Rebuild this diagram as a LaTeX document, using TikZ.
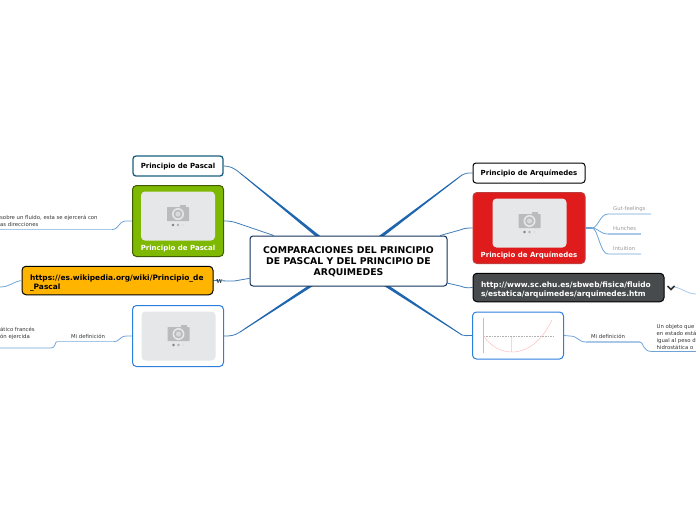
\documentclass[tikz,border=0pt]{standalone}
\usepackage{fontspec}
\setmainfont{DejaVu Sans}
\newfontfamily\wmarkfont{DejaVu Serif}
\usepackage{xcolor}
\usetikzlibrary{positioning,calc,backgrounds}
\definecolor{linkblue}{HTML}{1F66AE}
\definecolor{softblue}{HTML}{6FA3D8}
\definecolor{paleblue}{HTML}{A9C7E8}
\definecolor{navy}{HTML}{12325A}
\definecolor{pascalteal}{HTML}{1A5F80}
\definecolor{pascalgreen}{HTML}{7FB800}
\definecolor{arqred}{HTML}{E01B1B}
\definecolor{urlamber}{HTML}{FFB400}
\definecolor{urlgray}{HTML}{474B4D}
\definecolor{photogray}{HTML}{E6E7E9}
\definecolor{cameragray}{HTML}{BBBBBD}
\definecolor{framecolor}{HTML}{2C7FDD}
\tikzset{
  topicbox/.style={draw=black,rounded corners=3pt,line width=1pt,fill=white,font=\fontsize{7}{9}\selectfont\bfseries,align=center,inner sep=0pt,text depth=-1.5pt},
  imgbox/.style={rounded corners=4pt,line width=1pt,inner sep=0pt},
  photobox/.style={fill=photogray,rounded corners=4pt,inner sep=0pt},
  caption/.style={font=\fontsize{7}{9}\selectfont\bfseries,text=white,inner sep=0pt},
  urlbox/.style={rounded corners=4pt,line width=1pt,draw=black,font=\fontsize{7.45}{8.6}\selectfont\bfseries,align=left,inner sep=0pt,execute at begin node={\rule{0pt}{10.5pt}}},
  note/.style={font=\fontsize{5.35}{7}\selectfont,text=black!80,align=left,inner sep=0pt},
  faint/.style={font=\fontsize{5.3}{7}\selectfont,text=black!40,inner sep=0pt},
  thin/.style={linkblue!85,line width=0.8pt},
  sub/.style={softblue,line width=0.8pt},
  pale/.style={paleblue,line width=1.2pt},
}
% camera placeholder
\newcommand{\cameraicon}[1]{
  \fill[cameragray,rounded corners=0.5pt] ($(#1)+(-11,-9)$) rectangle ($(#1)+(11,5)$);
  \fill[cameragray] ($(#1)+(2,-11)$) rectangle ($(#1)+(8,-9)$);
  \fill[photogray] ($(#1)+(0,-2)$) circle (6);
  \fill[cameragray] ($(#1)+(0,-2)$) circle (4.4);
  \fill[photogray!70!cameragray] ($(#1)+(0,-2)$) circle (2.6);
  \fill[black!50] ($(#1)+(-5,9)$) circle (1.3);
  \fill[black!30] ($(#1)+(0,9)$) circle (1.3);
  \fill[black!12] ($(#1)+(5,9)$) circle (1.3);
}
% branch that widens towards the central node
\newcommand{\taper}[2]{
  \fill[linkblue] ($(#1)!0.4pt!90:(#2)$) -- ($(#2)!2pt!-90:(#1)$) -- ($(#2)!2pt!90:(#1)$) -- ($(#1)!0.4pt!-90:(#2)$) -- cycle;
}
\begin{document}
\begin{tikzpicture}[x=1pt,y=-1pt]
  \useasboundingbox (0,0) rectangle (696,520);
  % nodes
  \node[topicbox,draw=navy,minimum width=197pt,minimum height=50pt,font=\fontsize{9.3}{11}\selectfont\bfseries] (main) at (348.5,261)
    {COMPARACIONES DEL PRINCIPIO\\DE PASCAL Y DEL PRINCIPIO DE\\ARQUIMEDES};
  \node[topicbox,draw=pascalteal,line width=1.3pt,minimum width=90pt,minimum height=20pt] (pascal) at (178,166) {Principio de Pascal};
  \node[imgbox,draw=pascalgreen!50!black,fill=pascalgreen,minimum width=91pt,minimum height=71pt] (pascalimg) at (178,221) {};
  \node[photobox,minimum width=74pt,minimum height=49pt] (pascalphoto) at (178,216) {};
  \node[caption] (pascalcap) at (178,248.5) {Principio de Pascal};
  \node[urlbox,fill=urlamber,minimum width=191pt,minimum height=28.5pt,text width=175pt] (wiki) at (117.5,280.5)
    {https://es.wikipedia.org/wiki/Principio\_de\\\_Pascal};
  \node[imgbox,draw=framecolor,fill=white,minimum width=91pt,minimum height=61pt] (myimg) at (178,336) {};
  \node[photobox,minimum width=74pt,minimum height=49pt] (myphoto) at (178.5,336) {};
  \node[topicbox,minimum width=112pt,minimum height=20pt] (arq) at (529,173) {Principio de Arquímedes};
  \node[imgbox,draw=arqred!65!gray,fill=arqred,minimum width=112pt,minimum height=71pt] (arqimg) at (529,228) {};
  \node[photobox,minimum width=74pt,minimum height=49pt] (arqphoto) at (529.5,223) {};
  \node[caption] (arqcap) at (529,255.5) {Principio de Arquímedes};
  \node[urlbox,fill=urlgray,text=white,minimum width=191pt,minimum height=28.5pt,text width=175pt] (sc) at (568.5,287.5)
    {http://www.sc.ehu.es/sbweb/fisica/fluido\\s/estatica/arquimedes/arquimedes.htm};
  \node[imgbox,draw=framecolor,fill=white,minimum width=91pt,minimum height=47pt] (graph) at (518,335.5) {};
  % leaf labels
  \node[note,anchor=west] (pascaltext) at (0,221) {sobre un fluido, esta se ejercerá con\\as direcciones};
  \node[note,anchor=west] (frances) at (0,333) {ático francés\\ón ejercida};
  \node[note] (pascaldef) at (88,336) {Mi definición};
  \node[note] (arqdef) at (608,336) {Mi definición};
  \node[note,anchor=west] (arqtext) at (656.5,336.5) {Un objeto que\\en estado está\\igual al peso d\\hidrostática o};
  \node[faint,anchor=west] (gut) at (613,209.5) {Gut-feelings};
  \node[faint,anchor=west] (hunch) at (613,228.5) {Hunches};
  \node[faint,anchor=west] (intu) at (613,248.5) {Intuition};
  \node[font=\wmarkfont\bfseries\fontsize{5.5}{6}\selectfont,text=black!80,inner sep=0pt] (wmark) at (219.5,281) {W};
  % free ends and bends
  \coordinate (lefta) at (0,229.5);
  \coordinate (leftb) at (0,348);
  \coordinate (leftc) at (0,287);
  \coordinate (righta) at (696,294);
  \coordinate (linkmark) at (671,287);
  \coordinate (fork) at (592,228);
  \coordinate (pbend) at (240,173);
  \coordinate (mbend) at (240,332);
  \coordinate (abend) at (462,175);
  \coordinate (gbend) at (462,335);
  % connectors behind the central node
  \begin{scope}[on background layer]
    \draw[thin] (pascal.east) .. controls (230,166) and (234,168) .. (pbend);
    \draw[thin] (myimg.east) .. controls (230,336) and (234,336) .. (mbend);
    \draw[thin] (arq.west) .. controls (467,173) and (465,173) .. (abend);
    \draw[thin] (graph.west) .. controls (467,335.5) and (465,336) .. (gbend);
    \draw[thin] (pascalimg.east) .. controls (232,221) and (234,222) .. (240,224) -- (main);
    \draw[thin] (wiki.east) -- (228,281) .. controls (234,281) and (237,281) .. (240,280) -- (main);
    \draw[thin] (arqimg.west) .. controls (468,228) and (465,228) .. (460,230) -- (main);
    \draw[thin] (sc.west) .. controls (467,288) and (466,288) .. (460,286) -- (main);
    \taper{pbend}{main}
    \taper{mbend}{main}
    \taper{abend}{main}
    \taper{gbend}{main}
  \end{scope}
  % sub branches
  \draw[sub] (pascalimg.west) -- (125,221) .. controls (119,221) and (119,229.5) .. (112,229.5);
  \draw[pale] (112,229.5) -- (lefta);
  \draw[sub] (myimg.west) -- (127,336) .. controls (119,336) and (120,341.7) .. (114,341.7);
  \draw[pale] (114,341.7) -- (57,341.7);
  \draw[sub] (57,341.7) .. controls (54,341.7) and (57,348) .. (50,348) -- (leftb);
  \draw[sub] (wiki.west) .. controls (12,282) and (10,287) .. (leftc);
  \draw[sub] (graph.east) -- (570,336) .. controls (578,336) and (578,342) .. (586,342);
  \draw[pale] (586,342) -- (640,342);
  \draw[sub] (640,342) .. controls (644,342) and (642,351.5) .. (652,351.5) -- (696,351.5);
  \draw[sub,line width=1.2pt] (arqimg.east) -- (fork);
  \draw[sub] (fork) .. controls (598,228) and (600,214) .. (608,214) -- (651,214);
  \draw[sub] (fork) .. controls (598,228) and (600,234) .. (608,234);
  \draw[pale] (608,234) -- (641,234);
  \draw[sub] (fork) .. controls (598,228) and (600,254) .. (608,254) -- (641,254);
  \draw[sub,paleblue] (linkmark) .. controls (680,286) and (686,294) .. (righta);
  \draw[black!80,line width=1.5pt] ($(linkmark)+(-3.5,-1)$) -- ($(linkmark)+(0,2.5)$) -- ($(linkmark)+(3.5,-1)$);
  % camera icons
  \cameraicon{pascalphoto}
  \cameraicon{myphoto}
  \cameraicon{arqphoto}
  % graph thumbnail
  \draw[black!25,line width=0.5pt] (483.5,318) -- (483.5,353);
  \draw[black!12,line width=0.3pt] (511,336) -- (511,352);
  \draw[black!30,line width=0.6pt,densely dotted] (484,336) -- (553,336);
  \draw[red!25,line width=0.5pt] (484,336) .. controls (495,355) and (530,365) .. (552,320);
\end{tikzpicture}
\end{document}
